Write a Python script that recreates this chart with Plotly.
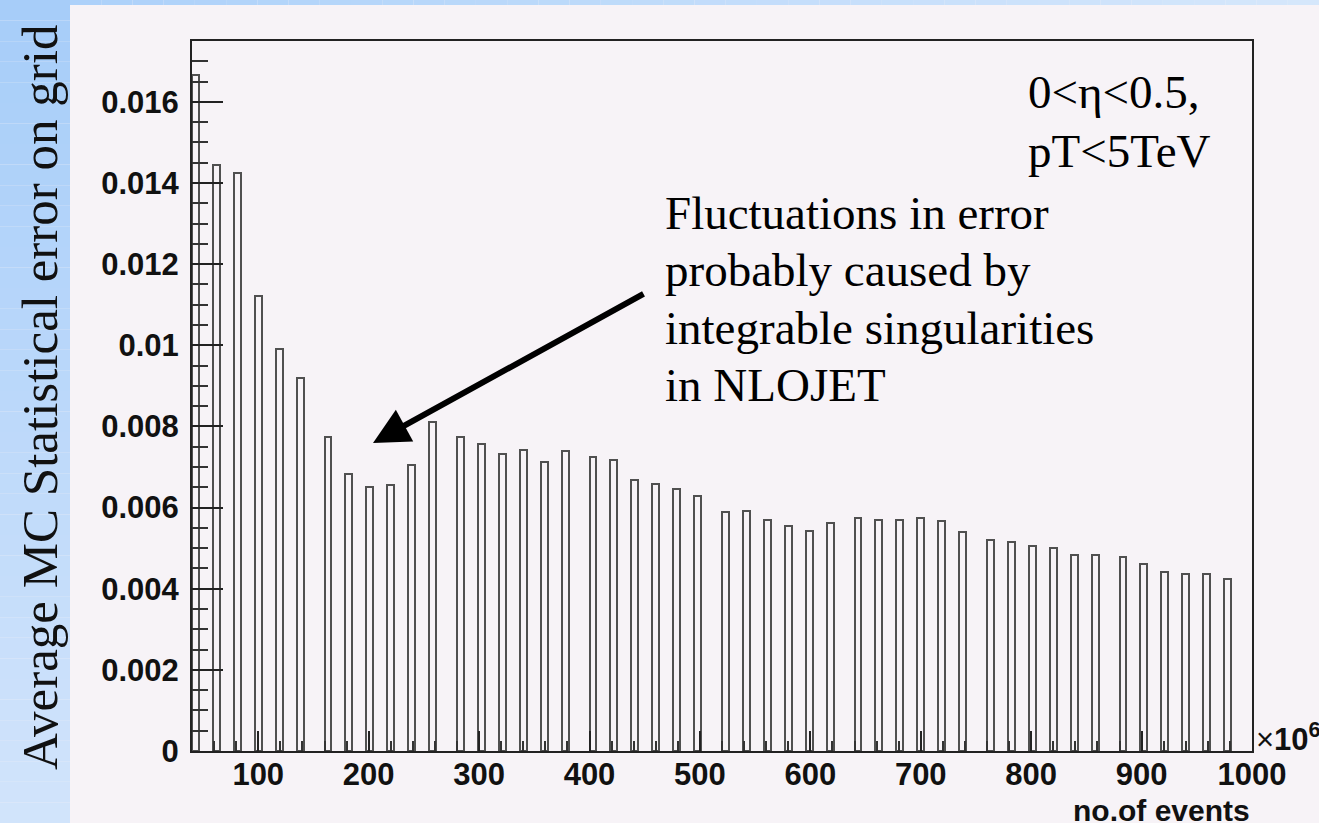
import plotly.graph_objects as go

# ---------------- data (no. of events in units of 10^6) ----------------
events = [40, 60, 80, 100, 120, 140, 160, 180, 200, 220,
          240, 260, 280, 300, 320, 340, 360, 380, 400, 420,
          440, 460, 480, 500, 520, 540, 560, 580, 600, 620,
          640, 660, 680, 700, 720, 740, 760, 780, 800, 820,
          840, 860, 880, 900, 920, 940, 960, 980]
stat_error = [0.01667, 0.01445, 0.01425, 0.01122, 0.00991, 0.00920, 0.00774, 0.00683, 0.00651, 0.00656,
              0.00705, 0.00811, 0.00773, 0.00757, 0.00733, 0.00742, 0.00713, 0.00739, 0.00724, 0.00717,
              0.00669, 0.00658, 0.00646, 0.00628, 0.00588, 0.00592, 0.00570, 0.00555, 0.00542, 0.00561,
              0.00575, 0.00569, 0.00570, 0.00575, 0.00566, 0.00540, 0.00521, 0.00514, 0.00506, 0.00501,
              0.00483, 0.00483, 0.00477, 0.00462, 0.00442, 0.00437, 0.00437, 0.00423]

x_tick_vals = [100, 200, 300, 400, 500, 600, 700, 800, 900, 1000]
x_tick_text = ["100", "200", "300", "400", "500", "600", "700", "800", "900", "1000"]
y_tick_vals = [0, 0.002, 0.004, 0.006, 0.008, 0.010, 0.012, 0.014, 0.016]
y_tick_text = ["0", "0.002", "0.004", "0.006", "0.008", "0.01", "0.012", "0.014", "0.016"]

y_title = "Average MC Statistical error on grid"
x_title = "no.of events"
note_lines = ["Fluctuations in error", "probably caused by",
              "integrable singularities", "in NLOJET"]
cut_lines = ["0<\u03b7<0.5,", "pT<5TeV"]

# histogram binning (ROOT-like)
x_lo, x_hi, n_bins = 40, 1000, 152
y_hi = 0.0175

# ---------------- layout geometry (pixels) ----------------
W, H = 1319, 823
L, R, T, B = 192, 1252, 41, 751


def px(x):
    return (x - L) / (R - L)


def py(y):
    return (B - y) / (B - T)


def mix(c1, c2, t):
    return "rgb(%d,%d,%d)" % tuple(round(a + (b - a) * t) for a, b in zip(c1, c2))


fig = go.Figure()
fig.add_trace(go.Histogram(
    x=events, y=stat_error, histfunc="sum",
    xbins=dict(start=x_lo - 1e-3, end=x_hi, size=(x_hi - x_lo) / n_bins),
    marker=dict(color="rgba(0,0,0,0)", line=dict(color="#505050", width=2)),
    hoverinfo="x+y", cliponaxis=False,
))

# background gradient strips (slide style)
shapes = []
n = 40
top_c, bot_c = (166, 205, 249), (210, 228, 251)
for i in range(n):
    y0 = i * H / n
    y1 = (i + 1) * H / n
    shapes.append(dict(type="rect", xref="paper", yref="paper",
                       x0=px(0), x1=px(70), y0=py(y1), y1=py(y0),
                       fillcolor=mix(top_c, bot_c, (i + 0.5) / n),
                       line=dict(width=0), layer="below"))
left_c, right_c = (172, 209, 250), (214, 231, 251)
for i in range(n):
    x0 = 70 + i * (W - 70) / n
    x1 = 70 + (i + 1) * (W - 70) / n
    shapes.append(dict(type="rect", xref="paper", yref="paper",
                       x0=px(x0), x1=px(x1), y0=py(5), y1=py(0),
                       fillcolor=mix(left_c, right_c, (i + 0.5) / n),
                       line=dict(width=0), layer="below"))

sans = dict(family="Liberation Sans", size=31, color="#111111", weight="bold")
serif = "Liberation Serif"

fig.update_layout(
    width=W, height=H,
    margin=dict(l=L, r=W - R, t=T, b=H - B, pad=0),
    paper_bgcolor="#f7f3f7", plot_bgcolor="#f7f3f7",
    bargap=0, showlegend=False, shapes=shapes,
    xaxis=dict(range=[x_lo, x_hi], tickmode="array", tickvals=x_tick_vals, ticktext=x_tick_text,
               ticks="inside", ticklen=20, tickwidth=1.6, tickcolor="#222222",
               minor=dict(tickmode="linear", tick0=0, dtick=20, ticks="inside", ticklen=10,
                          tickwidth=1.6, tickcolor="#333333"),
               showline=True, linecolor="#222222", linewidth=2, mirror=True,
               showgrid=False, zeroline=False, tickfont=sans, ticklabelstandoff=-5),
    yaxis=dict(range=[0, y_hi], tickmode="array", tickvals=y_tick_vals, ticktext=y_tick_text,
               ticks="inside", ticklen=31, tickwidth=1.6, tickcolor="#222222",
               minor=dict(tickmode="linear", tick0=0, dtick=0.0005, ticks="inside", ticklen=16,
                          tickwidth=1.6, tickcolor="#333333"),
               showline=True, linecolor="#222222", linewidth=2, mirror=True,
               showgrid=False, zeroline=False, tickfont=sans, ticklabelstandoff=5),
)

ann = []
ann.append(dict(text=y_title, textangle=-90, x=px(40), y=py(398), xref="paper", yref="paper",
                showarrow=False, xanchor="center", yanchor="middle",
                font=dict(family=serif, size=51, color="#111111")))
ann.append(dict(text="\u00d7<b>10<sup>6</sup></b>", x=px(1254), y=py(737), xref="paper", yref="paper",
                showarrow=False, xanchor="left", yanchor="middle",
                font=dict(family="Liberation Sans", size=31, color="#111111")))
ann.append(dict(text="<b>" + x_title + "</b>", x=px(1252), y=py(810), xref="paper", yref="paper",
                showarrow=False, xanchor="right", yanchor="middle",
                font=dict(family="Liberation Sans", size=30, color="#111111")))
for i, line in enumerate(note_lines):
    ann.append(dict(text=line, x=px(663), y=py(213 + 57.3 * i), xref="paper", yref="paper",
                    showarrow=False, xanchor="left", yanchor="middle",
                    font=dict(family=serif, size=47, color="#000000")))
for i, line in enumerate(cut_lines):
    ann.append(dict(text=line, x=px(1026), y=py(92 + 59 * i), xref="paper", yref="paper",
                    showarrow=False, xanchor="left", yanchor="middle",
                    font=dict(family=serif, size=47, color="#000000")))
ann.append(dict(text="", x=px(373), y=py(443), xref="paper", yref="paper",
                ax=645 - 373, ay=293 - 443, axref="pixel", ayref="pixel",
                showarrow=True, arrowhead=2, arrowsize=1.2, arrowwidth=6,
                arrowcolor="#000000", standoff=0))
fig.update_layout(annotations=ann)

fig.write_html("out.html", config={"displayModeBar": False},
               post_script="document.body.style.margin='0px';document.body.style.overflow='hidden';")
